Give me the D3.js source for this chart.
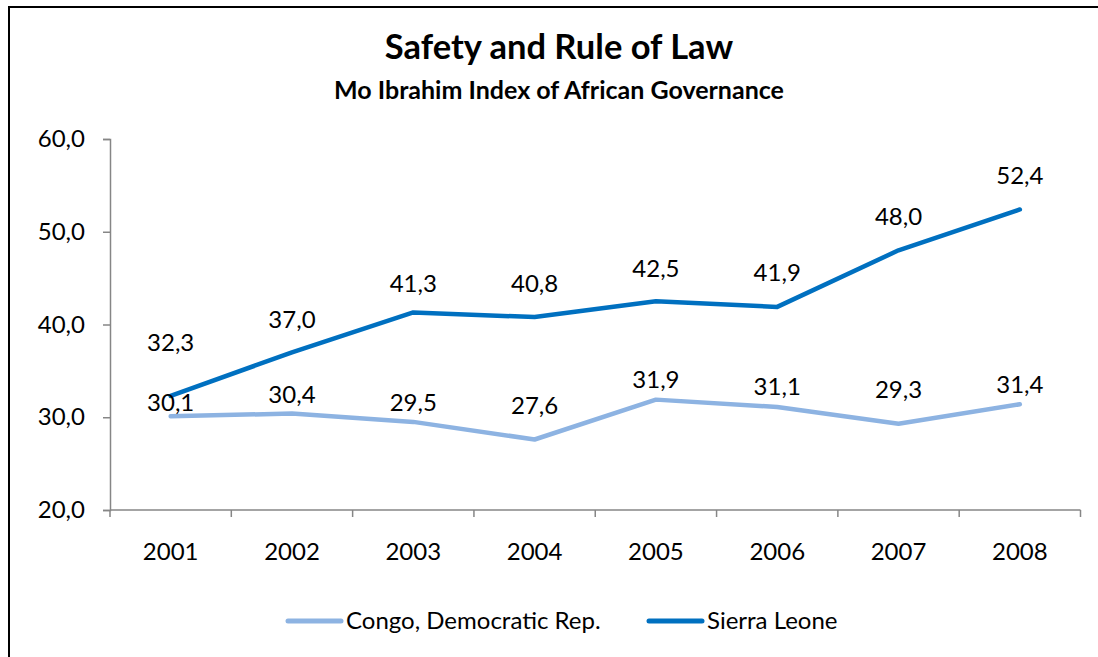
<!DOCTYPE html>
<html>
<head>
<meta charset="utf-8">
<script src="https://cdn.jsdelivr.net/npm/d3@7"></script>
<style>
  html, body { margin: 0; padding: 0; background: #fff; }
  svg { display: block; font-family: Lato, "Open Sans", sans-serif; }
</style>
</head>
<body>
<svg id="chart" width="1098" height="657"></svg>
<script>
// ---- data ----
const years = ["2001", "2002", "2003", "2004", "2005", "2006", "2007", "2008"];
const congo = [30.1, 30.4, 29.5, 27.6, 31.9, 31.1, 29.3, 31.4];
const sierraLeone = [32.3, 37.0, 41.3, 40.8, 42.5, 41.9, 48.0, 52.4];
const yTicks = [20, 30, 40, 50, 60];
const seriesNames = ["Congo, Democratic Rep.", "Sierra Leone"];

// ---- layout (label nudges as in the original) ----
const congoLabelDy = [-14, -19, -19, -34, -20, -20, -34, -20];
const sierraLabelDy = [-53, -33, -29, -33, -33, -34, -34, -34];

const colors = { congo: "#8DB3E2", sierra: "#0070C0" };
const svg = d3.select("#chart");
const fs = 24;

// outer border
svg.append("rect").attr("x", 9).attr("y", 7).attr("width", 1200).attr("height", 800)
  .attr("fill", "none").attr("stroke", "#000").attr("stroke-width", 2);

const plot = { left: 110, right: 1080.5, top: 139, bottom: 510 };

const x = d3.scaleBand().domain(years).range([plot.left, plot.right]);
const y = d3.scaleLinear().domain([20, 60]).range([plot.bottom, plot.top]);

// title
svg.append("text").attr("x", 559).attr("y", 59).attr("text-anchor", "middle")
  .attr("font-weight", "bold").attr("font-size", 34.5).attr("fill", "#000")
  .text("Safety and Rule of Law");
svg.append("text").attr("x", 559).attr("y", 99).attr("text-anchor", "middle")
  .attr("font-weight", "bold").attr("font-size", 25).attr("fill", "#000")
  .text("Mo Ibrahim Index of African Governance");

// y axis
const yAxis = d3.axisLeft(y).tickValues(yTicks).tickSize(7).tickPadding(18)
  .tickFormat(d => d3.format(".1f")(d).replace(".", ","));
const gy = svg.append("g").attr("transform", `translate(${plot.left},0)`).call(yAxis);
gy.select(".domain").attr("stroke", "#868686").attr("stroke-width", 1.5);
gy.selectAll(".tick line").attr("stroke", "#868686").attr("stroke-width", 1.5);
gy.selectAll(".tick text").attr("font-size", fs).attr("fill", "#000")
  .attr("font-family", "Lato, sans-serif");

// x axis
const xAxis = d3.axisBottom(x).tickSize(0).tickPadding(33);
const gx = svg.append("g").attr("transform", `translate(0,${plot.bottom})`).call(xAxis);
gx.select(".domain").remove();
gx.selectAll(".tick text").attr("font-size", fs).attr("fill", "#000")
  .attr("font-family", "Lato, sans-serif");
gx.append("line").attr("x1", plot.left).attr("x2", plot.right).attr("y1", 0).attr("y2", 0)
  .attr("stroke", "#868686").attr("stroke-width", 1.5);
// category boundary ticks
const bounds = years.map(d => x(d)).concat([x(years[years.length - 1]) + x.bandwidth()]);
gx.selectAll("line.bt").data(bounds).enter().append("line").attr("class", "bt")
  .attr("x1", d => d).attr("x2", d => d).attr("y1", 0).attr("y2", 7)
  .attr("stroke", "#868686").attr("stroke-width", 1.5);

const cx = d => x(d) + x.bandwidth() / 2;
const line = d3.line().x(d => cx(d.year)).y(d => y(d.value));

function drawSeries(values, color, dys) {
  const data = years.map((yr, i) => ({ year: yr, value: values[i], dy: dys[i] }));
  svg.append("path").datum(data).attr("d", line).attr("fill", "none")
    .attr("stroke", color).attr("stroke-width", 4.5)
    .attr("stroke-linejoin", "round").attr("stroke-linecap", "round");
  return data;
}
const congoData = drawSeries(congo, colors.congo, congoLabelDy);
const sierraData = drawSeries(sierraLeone, colors.sierra, sierraLabelDy);

function drawLabels(data) {
  svg.append("g").selectAll("text").data(data).enter().append("text")
    .attr("x", d => cx(d.year)).attr("y", d => y(d.value) + d.dy)
    .attr("dy", "0.35em").attr("text-anchor", "middle")
    .attr("font-size", fs).attr("fill", "#000")
    .text(d => d3.format(".1f")(d.value).replace(".", ","));
}
drawLabels(congoData);
drawLabels(sierraData);

// legend
const legend = [
  { name: seriesNames[0], color: colors.congo, x: 288 },
  { name: seriesNames[1], color: colors.sierra, x: 649 }
];
const lg = svg.append("g");
legend.forEach(l => {
  lg.append("line").attr("x1", l.x).attr("x2", l.x + 53).attr("y1", 621).attr("y2", 621)
    .attr("stroke", l.color).attr("stroke-width", 5).attr("stroke-linecap", "round");
  lg.append("text").attr("x", l.x + 58).attr("y", 621).attr("dy", "0.35em")
    .attr("font-size", fs).attr("fill", "#000").text(l.name);
});
</script>
</body>
</html>
